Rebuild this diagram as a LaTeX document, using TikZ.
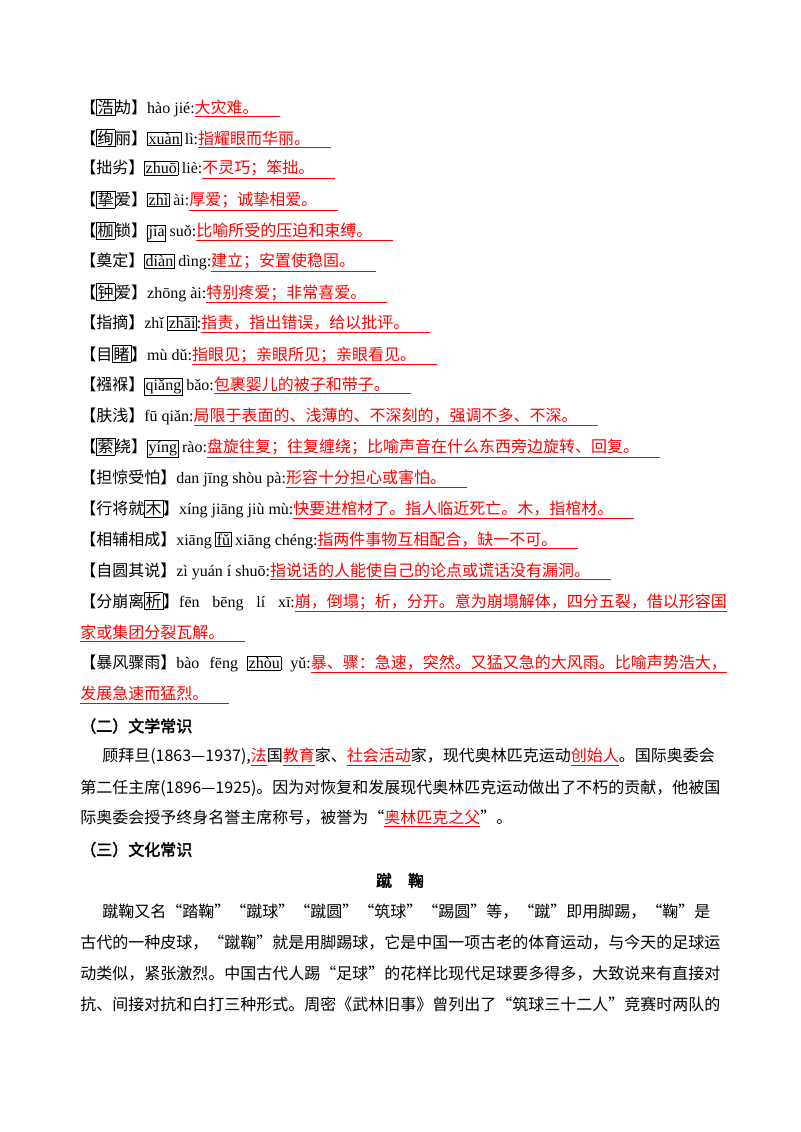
\documentclass[tikz,border=0pt]{standalone}
\usepackage{fontspec}
\setmainfont{Liberation Serif}
\newfontfamily\cjk[AutoFakeBold=2.5]{Noto Sans CJK SC}
\XeTeXlinebreaklocale "zh"
\XeTeXlinebreakskip=0pt plus 1pt
\usetikzlibrary{positioning}

\newcommand{\bx}[1]{{\setlength{\fboxsep}{0.6pt}\setlength{\fboxrule}{0.5pt}\fbox{#1}}}
\newcommand{\py}[1]{{\rmfamily #1}}
\newcommand{\dfn}[1]{{\color{red}\underline{#1\hspace{1.3em}}}}
\newcommand{\rd}[1]{{\color{red}\underline{#1}}}
\newcommand{\full}[1]{\makebox[485pt][s]{#1}}
\newcommand{\fulli}[1]{\makebox[469pt][s]{#1}}

\begin{document}
\begin{tikzpicture}
  [
    x=0.75pt, y=-0.75pt,
    line/.style =
      {anchor=west, inner sep=0pt, font=\fontsize{12}{14}\selectfont\cjk},
    head/.style =
      {line, font=\fontsize{12}{14}\selectfont\cjk\bfseries}
  ]
\useasboundingbox (0,0) rectangle (800,1132);

% word list
\node[line] (r1)  at (80,108)   {【\bx{浩}劫】\py{hào jié:}\dfn{大灾难。}};
\node[line] (r2)  at (80,138.9) {【\bx{绚}丽】\bx{\py{xuàn}} \py{lì:}\dfn{指耀眼而华丽。}};
\node[line] (r3)  at (80,169.8) {【拙劣】\bx{\py{zhuō}} \py{liè:}\dfn{不灵巧；笨拙。}};
\node[line] (r4)  at (80,200.7) {【\bx{挚}爱】\bx{\py{zhì}} \py{ài:}\dfn{厚爱；诚挚相爱。}};
\node[line] (r5)  at (80,231.6) {【\bx{枷}锁】\bx{\py{jia}} \py{suǒ:}\dfn{比喻所受的压迫和束缚。}};
\node[line] (r6)  at (80,262.5) {【奠定】\bx{\py{diàn}} \py{dìng:}\dfn{建立；安置使稳固。}};
\node[line] (r7)  at (80,293.4) {【\bx{钟}爱】\py{zhōng ài:}\dfn{特别疼爱；非常喜爱。}};
\node[line] (r8)  at (80,324.3) {【指摘】\py{zhǐ} \bx{\py{zhāi}}\py{:}\dfn{指责，指出错误，给以批评。}};
\node[line] (r9)  at (80,355.2) {【目\bx{睹}】\py{mù dǔ:}\dfn{指眼见；亲眼所见；亲眼看见。}};
\node[line] (r10) at (80,386.1) {【襁褓】\bx{\py{qiǎng}} \py{bǎo:}\dfn{包裹婴儿的被子和带子。}};
\node[line] (r11) at (80,417)   {【肤浅】\py{fū qiǎn:}\dfn{局限于表面的、浅薄的、不深刻的，强调不多、不深。}};
\node[line] (r12) at (80,447.9) {【\bx{萦}绕】\bx{\py{yíng}} \py{rào:}\dfn{盘旋往复；往复缠绕；比喻声音在什么东西旁边旋转、回复。}};
\node[line] (r13) at (80,478.8) {【担惊受怕】\py{dan jīng shòu pà:}\dfn{形容十分担心或害怕。}};
\node[line] (r14) at (80,509.7) {【行将就\bx{木}】\py{xíng jiāng jiù mù:}\dfn{快要进棺材了。指人临近死亡。木，指棺材。}};
\node[line] (r15) at (80,540.6) {【相辅相成】\py{xiāng} \bx{\py{fǔ}} \py{xiāng chéng:}\dfn{指两件事物互相配合，缺一不可。}};
\node[line] (r16) at (80,571.5) {【自圆其说】\py{zì yuán í shuō:}\dfn{指说话的人能使自己的论点或谎话没有漏洞。}};
\node[line] (r17) at (80,602.4) {\full{【分崩离\bx{析}】\py{fēn bēng lí xī:}{\color{red}\underline{崩，倒塌；析，分开。意为崩塌解体，四分五裂，借以形容国}}}};
\node[line] (r17b) at (80,633.3) {\dfn{家或集团分裂瓦解。}};
\node[line] (r18) at (80,664.2) {\full{【暴风骤雨】\py{bào fēng} \bx{\py{zhòu}} \py{yǔ:}{\color{red}\underline{暴、骤：急速，突然。又猛又急的大风雨。比喻声势浩大，}}}};
\node[line] (r18b) at (80,695.1) {\dfn{发展急速而猛烈。}};

% literature
\node[head] (h2) at (80,726) {（二）文学常识};
\node[line] (l1) at (102,756.9) {\fulli{顾拜旦(1863—1937),\rd{法}国\rd{教育}家、\rd{社会活动}家，现代奥林匹克运动\rd{创始人}。国际奥委会}};
\node[line] (l2) at (80,787.8) {\full{第二任主席(1896—1925)。因为对恢复和发展现代奥林匹克运动做出了不朽的贡献，他被国}};
\node[line] (l3) at (80,818.7) {际奥委会授予终身名誉主席称号，被誉为“\rd{奥林匹克之父}”。};

% culture
\node[head] (h3) at (80,849.6) {（三）文化常识};
\node[head, anchor=center] (t) at (400,880.5) {蹴\quad 鞠};
\node[line] (c1) at (102,911.4) {\fulli{蹴鞠又名“踏鞠”“蹴球”“蹴圆”“筑球”“踢圆”等，“蹴”即用脚踢，“鞠”是}};
\node[line] (c2) at (80,942.3)  {\full{古代的一种皮球，“蹴鞠”就是用脚踢球，它是中国一项古老的体育运动，与今天的足球运}};
\node[line] (c3) at (80,973.2)  {\full{动类似，紧张激烈。中国古代人踢“足球”的花样比现代足球要多得多，大致说来有直接对}};
\node[line] (c4) at (80,1004.1) {\full{抗、间接对抗和白打三种形式。周密《武林旧事》曾列出了“筑球三十二人”竞赛时两队的}};

\end{tikzpicture}
\end{document}
